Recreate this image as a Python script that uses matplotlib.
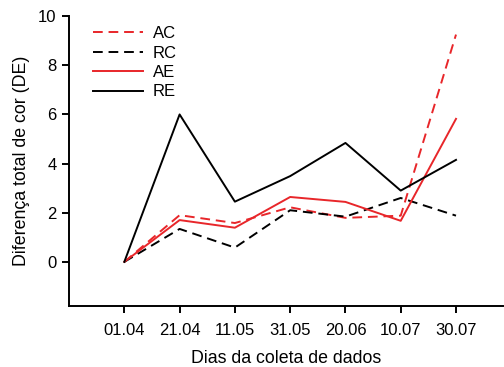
import matplotlib.pyplot as plt

plt.rcParams['font.family'] = ['Liberation Sans', 'DejaVu Sans']

dates = ["01.04", "21.04", "11.05", "31.05", "20.06", "10.07", "30.07"]
ac = [0, 1.9, 1.58, 2.22, 1.79, 1.88, 9.25]
rc = [0, 1.34, 0.58, 2.1, 1.84, 2.6, 1.88]
ae = [0, 1.7, 1.39, 2.64, 2.44, 1.67, 5.82]
re = [0, 6.0, 2.45, 3.49, 4.84, 2.9, 4.15]

red = '#e8262a'
x = list(range(len(dates)))

fig = plt.figure(figsize=(5.04, 3.67), dpi=100)
ax = fig.add_axes([0.137, 0.166, 0.861, 0.790])

ax.plot(x, ac, color=red, ls=(0, (5, 3)), lw=1.4, label='AC')
ax.plot(x, rc, color='black', ls=(0, (5, 3)), lw=1.4, label='RC')
ax.plot(x, ae, color=red, lw=1.4, label='AE')
ax.plot(x, re, color='black', lw=1.4, label='RE')

ax.set_xlim(-1, 6.85)
ax.set_ylim(-1.8, 10)
ax.set_xticks(x)
ax.set_xticklabels(dates)
ax.set_yticks([0, 2, 4, 6, 8, 10])
ax.spines['top'].set_visible(False)
ax.spines['right'].set_visible(False)
for s in ['left', 'bottom']:
    ax.spines[s].set_linewidth(1.4)
ax.tick_params(axis='both', labelsize=12, width=1.4, length=5, direction='out')
ax.tick_params(axis='x', pad=7)
ax.tick_params(axis='y', pad=4)

ax.set_xlabel('Dias da coleta de dados', fontsize=12.8, labelpad=9)
ax.set_ylabel('Diferença total de cor (DE)', fontsize=12.8, labelpad=6)

ax.legend(loc='upper left', bbox_to_anchor=(93 / 504, 1 - 26 / 367),
          bbox_transform=fig.transFigure, frameon=False, fontsize=12,
          borderpad=0, borderaxespad=0,
          handlelength=3.0, labelspacing=0.27, handletextpad=0.6)

fig.savefig('out.png', dpi=100)
